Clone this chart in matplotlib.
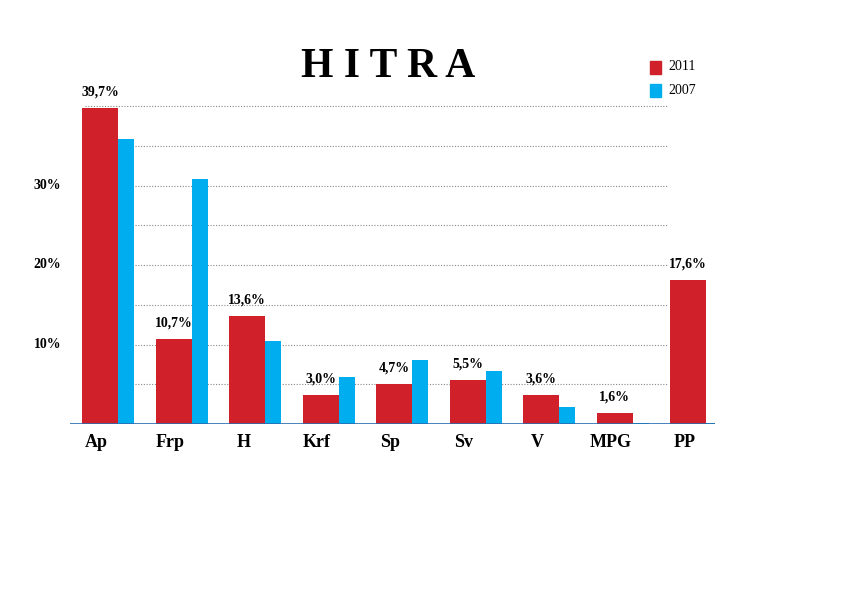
import matplotlib
matplotlib.use("Agg")
import matplotlib.pyplot as plt
from matplotlib.patches import Rectangle

categories = ["Ap", "Frp", "H", "Krf", "Sp", "Sv", "V", "MPG", "PP"]
v2011 = [39.7, 10.7, 13.6, 3.6, 5.0, 5.5, 3.7, 1.4, 18.1]
labels2011 = ["39,7%", "10,7%", "13,6%", "3,0%", "4,7%", "5,5%", "3,6%", "1,6%", "17,6%"]
v2007 = [35.9, 30.8, 10.4, 5.9, 8.0, 6.7, 2.2, 0.1, 0.1]
yticks = [10, 20, 30]
ytick_labels = ["10%", "20%", "30%"]

RED = "#d0202a"
BLUE = "#00aeef"
FONT = "Liberation Serif"

W, H = 842, 595
fig = plt.figure(figsize=(W/100, H/100), dpi=100)
ax = fig.add_axes([70/W, (H-424)/H, (715-70)/W, (424-95)/H])
ax.set_xlim(-12/73.5, (715-82)/73.5)
ax.set_ylim(0, (424-95)/7.95)

rw, bw = 36/73.5, 16/73.5
for i, c in enumerate(categories):
    ax.bar(i, v2011[i], width=rw, align="edge", color=RED, zorder=3)
    ax.bar(i+rw, v2007[i], width=bw, align="edge", color=BLUE, zorder=3)
    ax.text(i+rw/2, v2011[i]+1.2, labels2011[i], ha="center", va="bottom",
            fontsize=10, fontweight="bold", family=FONT)
    ax.text(i+rw/2 - 0.05, -1.3, c, ha="center", va="top", fontsize=13,
            fontweight="bold", family=FONT)

for g in range(5, 45, 5):
    ax.hlines(g, 0.04, 7.97, colors="#888888", linestyles=(0, (1, 1.5)), linewidth=0.8, zorder=1)
ax.axhline(0, color="#2a6db0", linewidth=1.2, zorder=4)

for t, l in zip(yticks, ytick_labels):
    ax.text(-0.28, t, l, ha="right", va="center", fontsize=10, fontweight="bold", family=FONT)

for s in ax.spines.values():
    s.set_visible(False)
ax.set_xticks([]); ax.set_yticks([])

fig.text(388/W, 1-67/H, "H I T R A", ha="center", va="center", fontsize=30,
         fontweight="bold", family=FONT)
for y, col, lab in [(67, RED, "2011"), (90, BLUE, "2007")]:
    fig.patches.append(Rectangle((650/W, 1-(y+7)/H), 11/W, 13/H, color=col,
                                 transform=fig.transFigure))
    fig.text(668/W, 1-y/H, lab, ha="left", va="center", fontsize=10, family=FONT)

fig.savefig("out.png", dpi=100, facecolor="white")
